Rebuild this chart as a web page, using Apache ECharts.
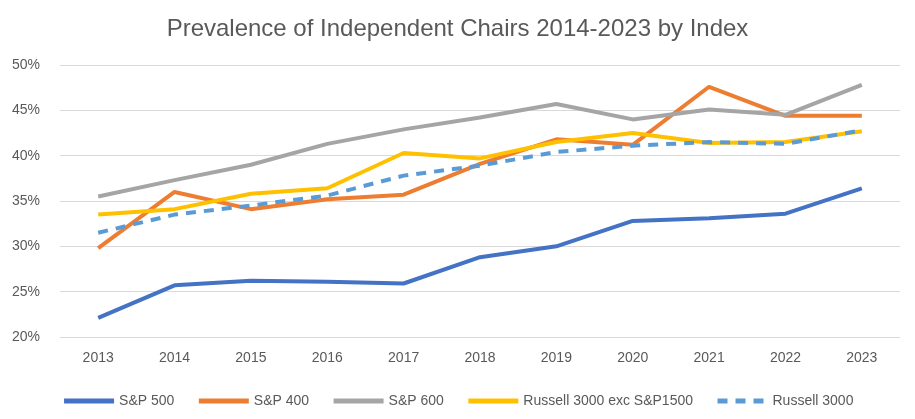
<!DOCTYPE html>
<html>
<head>
<meta charset="utf-8">
<script src="https://cdn.jsdelivr.net/npm/echarts@6/dist/echarts.min.js"></script>
<style>
  html, body { margin: 0; padding: 0; background: #fff; }
  #chart { width: 915px; height: 419px; }
</style>
</head>
<body>
<div id="chart"></div>
<script>
// years on the x axis
const years = ['2013', '2014', '2015', '2016', '2017', '2018', '2019', '2020', '2021', '2022', '2023']

// share of independent chairs, percent
const sp500 = [22.1, 25.7, 26.2, 26.1, 25.9, 28.8, 30.0, 32.8, 33.1, 33.6, 36.4]
const sp400 = [29.8, 36.0, 34.1, 35.2, 35.7, 39.1, 41.8, 41.2, 47.6, 44.4, 44.4]
const sp600 = [35.5, 37.3, 39.0, 41.3, 42.9, 44.2, 45.7, 44.0, 45.1, 44.5, 47.8]
const russellExc = [33.5, 34.1, 35.8, 36.4, 40.3, 39.7, 41.5, 42.5, 41.4, 41.5, 42.7]
const russell3000 = [31.5, 33.5, 34.5, 35.6, 37.8, 38.9, 40.4, 41.1, 41.5, 41.3, 42.8]

const font = "'Liberation Sans', sans-serif"
const textColor = '#595959'

function line(name, data, color, dashed) {
  return {
    name: name,
    type: 'line',
    data: data,
    symbol: 'none',
    lineStyle: { width: 4, color: color, type: dashed ? [10, 8] : 'solid' },
    itemStyle: { color: color }
  }
}

const chart = echarts.init(document.getElementById('chart'))
chart.setOption({
  animation: false,
  title: {
    text: 'Prevalence of Independent Chairs 2014-2023 by Index',
    left: 'center',
    top: 12,
    textStyle: { fontFamily: font, fontSize: 24, fontWeight: 'normal', color: textColor }
  },
  grid: { left: 60, right: 15, top: 65, bottom: 82 },
  legend: {
    bottom: 6,
    left: 'center',
    itemWidth: 50,
    itemHeight: 5,
    itemGap: 22,
    itemStyle: { opacity: 0 },
    lineStyle: { width: 5 },
    textStyle: { fontFamily: font, fontSize: 14, color: textColor }
  },
  xAxis: {
    type: 'category',
    data: years,
    axisLine: { show: false },
    axisTick: { show: false },
    axisLabel: { fontFamily: font, fontSize: 14, color: textColor, margin: 14 }
  },
  yAxis: {
    type: 'value',
    min: 20,
    max: 50,
    interval: 5,
    axisLabel: { formatter: '{value}%', fontFamily: font, fontSize: 14, color: textColor, margin: 20 },
    splitLine: { lineStyle: { color: '#d9d9d9', width: 1 } }
  },
  series: [
    line('S&P 500', sp500, '#4472C4'),
    line('S&P 400', sp400, '#ED7D31'),
    line('S&P 600', sp600, '#A5A5A5'),
    line('Russell 3000 exc S&P1500', russellExc, '#FFC000'),
    line('Russell 3000', russell3000, '#5B9BD5', true)
  ]
})
</script>
</body>
</html>
